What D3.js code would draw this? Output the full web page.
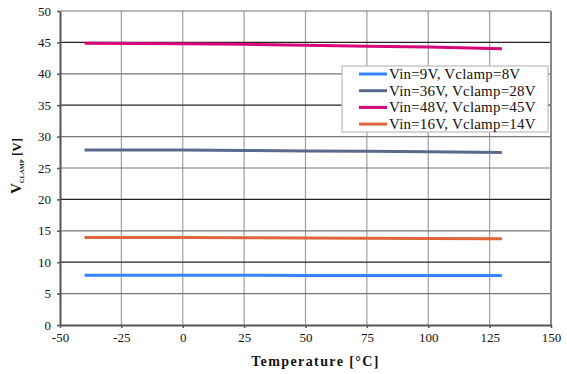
<!DOCTYPE html>
<html>
<head>
<meta charset="utf-8">
<script src="https://cdn.jsdelivr.net/npm/d3@7"></script>
<style>
  body { margin: 0; background: #fff; }
  svg text { font-family: 'Liberation Serif', 'Times New Roman', Times, serif !important; }
</style>
</head>
<body>
<svg id="chart" width="567" height="374"></svg>
<script>
// data
var temps = [-40, 0, 25, 50, 75, 100, 130]
var seriesNames = ['Vin=9V, Vclamp=8V', 'Vin=36V, Vclamp=28V', 'Vin=48V, Vclamp=45V', 'Vin=16V, Vclamp=14V']
var vclamp9 = [7.92, 7.92, 7.91, 7.9, 7.89, 7.88, 7.87]
var vclamp36 = [27.85, 27.85, 27.8, 27.72, 27.65, 27.58, 27.48]
var vclamp48 = [44.85, 44.8, 44.7, 44.55, 44.4, 44.25, 44.0]
var vclamp16 = [13.95, 13.93, 13.9, 13.86, 13.82, 13.78, 13.72]
var colors = ['#3385ff', '#5a6a8e', '#d6067c', '#e0653a']
var xTicks = [-50, -25, 0, 25, 50, 75, 100, 125, 150]
var yTicks = [0, 5, 10, 15, 20, 25, 30, 35, 40, 45, 50]

var allSeries = [vclamp9, vclamp36, vclamp48, vclamp16]

var svg = d3.select('#chart')
var margin = { top: 11, right: 16, bottom: 49, left: 60 }
var width = 567 - margin.left - margin.right
var height = 374 - margin.top - margin.bottom

var g = svg.append('g')
    .attr('transform', 'translate(' + margin.left + ',' + margin.top + ')')

var xScale = d3.scaleLinear().domain([-50, 150]).range([0, width])
var yScale = d3.scaleLinear().domain([0, 50]).range([height, 0])

// grid
g.selectAll('.vgrid')
    .data(xTicks.slice(1, -1))
    .enter().append('line')
    .attr('x1', d => xScale(d)).attr('x2', d => xScale(d))
    .attr('y1', 0).attr('y2', height)
    .attr('stroke', '#a0a0a0').attr('stroke-width', 1.2)

g.selectAll('.hgrid')
    .data(yTicks.slice(1))
    .enter().append('line')
    .attr('x1', 0).attr('x2', width)
    .attr('y1', d => yScale(d)).attr('y2', d => yScale(d))
    .attr('stroke', d => [45, 35, 20, 10].indexOf(d) >= 0 ? '#222' : '#777')
    .attr('stroke-width', 1.2)

// right border
g.append('line')
    .attr('x1', width).attr('x2', width).attr('y1', 0).attr('y2', height)
    .attr('stroke', '#888').attr('stroke-width', 2)

// axes
var xAxis = d3.axisBottom(xScale).tickValues(xTicks).tickSize(3).tickSizeOuter(0).tickPadding(5)
    .tickFormat(d => String(d))
var yAxis = d3.axisLeft(yScale).tickValues(yTicks).tickSize(3).tickSizeOuter(0).tickPadding(6)
    .tickFormat(d => String(d))

var gx = g.append('g')
    .attr('transform', 'translate(0,' + height + ')')
    .call(xAxis)
var gy = g.append('g').call(yAxis)

;[gx, gy].forEach(function (a) {
    a.attr('font-family', null)
    a.select('.domain').attr('stroke', '#555').attr('stroke-width', 2)
    a.selectAll('.tick line').attr('stroke', '#555').attr('stroke-width', 1.5)
    a.selectAll('.tick text')
        .style('font-size', '13px')
        .attr('fill', '#111')
})

// lines
var line = d3.line()
    .x((d, i) => xScale(temps[i]))
    .y(d => yScale(d))

g.selectAll('.series')
    .data(allSeries)
    .enter().append('path')
    .attr('d', line)
    .attr('fill', 'none')
    .attr('stroke', (d, i) => colors[i])
    .attr('stroke-width', 3)

// legend
var legend = svg.append('g').attr('transform', 'translate(342,66)')
legend.append('rect')
    .attr('width', 206).attr('height', 66)
    .attr('fill', '#fff').attr('stroke', '#bbb').attr('stroke-width', 1.2)

var items = legend.selectAll('.item')
    .data(seriesNames)
    .enter().append('g')
    .attr('transform', (d, i) => 'translate(0,' + (8 + i * 16.7) + ')')

items.append('line')
    .attr('x1', 17).attr('x2', 45).attr('y1', 0).attr('y2', 0)
    .attr('stroke', (d, i) => colors[i]).attr('stroke-width', 3)
items.append('text')
    .attr('x', 47).attr('y', 5)
    .style('font-size', '15px')
    .attr('letter-spacing', 0.2)
    .attr('fill', '#111')
    .text(d => d)

// axis titles
svg.append('text')
    .attr('x', margin.left + width / 2 + 10)
    .attr('y', 366)
    .attr('text-anchor', 'middle')
    .style('font-size', '14px')
    .attr('font-weight', 'bold')
    .attr('letter-spacing', 1.4)
    .attr('fill', '#111')
    .text('Temperature [°C]')

var yt = svg.append('text')
    .attr('transform', 'translate(21,' + 166 + ') rotate(-90)')
    .attr('text-anchor', 'middle')
    .style('font-size', '13px')
    .attr('font-weight', 'bold')
    .attr('fill', '#111')
yt.append('tspan').style('font-size', '15px').text('V')
yt.append('tspan').style('font-size', '6.5px').attr('dy', 3).text('CLAMP')
yt.append('tspan').attr('dy', -3).text(' [V]')
</script>
</body>
</html>
